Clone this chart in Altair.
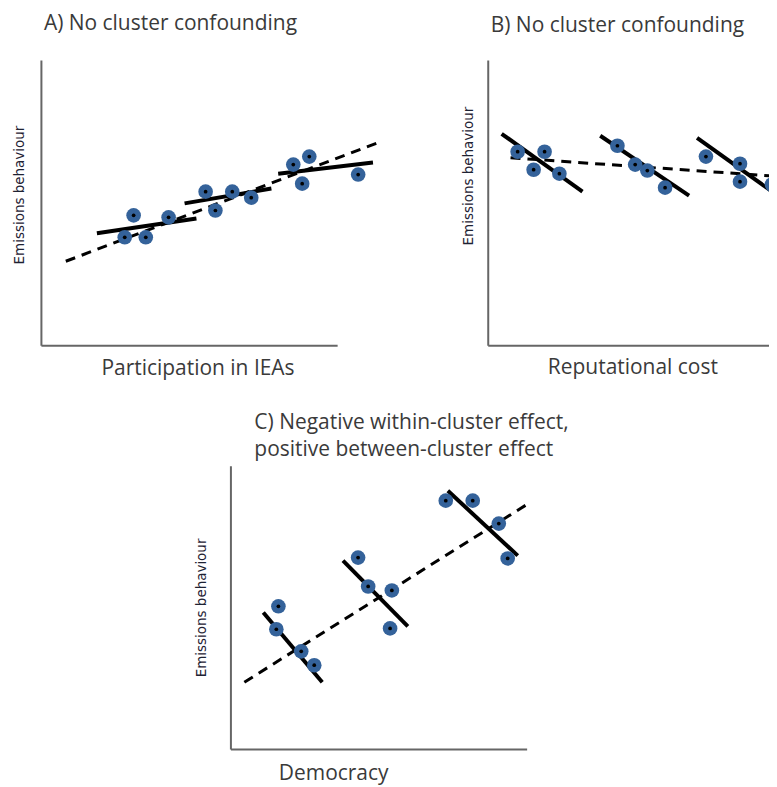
import altair as alt
import pandas as pd

# ---------------- data (arbitrary units) ----------------
A_x = [2.83, 3.13, 3.54, 4.31, 5.56, 5.89, 6.46, 7.10, 8.52, 8.82, 9.06, 10.71]
A_y = [3.78, 4.55, 3.78, 4.48, 5.38, 4.72, 5.38, 5.17, 6.33, 5.66, 6.61, 5.98]
A_within = [[1.89, 3.92, 5.25, 4.44], [4.85, 4.97, 7.78, 5.49], [8.01, 6.01, 11.21, 6.40]]
A_between = [0.84, 2.94, 11.38, 7.10]

B_x = [1.01, 1.55, 1.92, 2.42, 4.38, 4.98, 5.39, 5.99, 7.37, 8.52, 8.52, 9.60]
B_y = [6.78, 6.15, 6.78, 6.01, 6.99, 6.33, 6.12, 5.52, 6.61, 6.36, 5.73, 5.63]
B_within = [[0.47, 7.41, 3.20, 5.38], [3.80, 7.34, 6.80, 5.24], [7.07, 7.27, 9.93, 5.14]]
B_between = [0.77, 6.57, 9.87, 5.91]

C_x = [1.62, 1.55, 2.39, 2.83, 4.31, 4.65, 5.45, 5.39, 7.27, 8.18, 9.06, 9.36]
C_y = [5.04, 4.23, 3.45, 2.96, 6.76, 5.74, 5.60, 4.26, 8.77, 8.77, 7.96, 6.73]
C_within = [[1.11, 4.82, 3.10, 2.36], [3.80, 6.65, 5.99, 4.33], [7.34, 9.12, 9.70, 6.83]]
C_between = [0.47, 2.36, 10.0, 8.63]

TITLE_FONT = "Open Sans"
TEXT_COLOR = "#3a3a3a"
POINT_COLOR = "#34629a"


def panel(px, py, within, between, xmax, width, height, title, xtitle, ytitle,
          title_dx, title_offset, xt_x, xt_y, yt_x, yt_y, clip=False):
    pts = pd.DataFrame({"x": px, "y": py})
    seg = pd.DataFrame(within, columns=["x", "y", "x2", "y2"])
    bet = pd.DataFrame([between], columns=["x", "y", "x2", "y2"])

    xs = alt.Scale(domain=[0, xmax], nice=False, zero=False)
    ys = alt.Scale(domain=[0, 10], nice=False, zero=False)
    xax = alt.Axis(title=xtitle, domain=True, domainColor="#666666", domainWidth=2,
                   ticks=False, labels=False, grid=False,
                   titleFont=TITLE_FONT, titleFontSize=21, titleFontWeight="normal",
                   titleColor=TEXT_COLOR, titleX=xt_x, titleY=xt_y,
                   titleAlign="center", titleBaseline="middle")
    yax = alt.Axis(title=ytitle, domain=True, domainColor="#666666", domainWidth=2,
                   ticks=False, labels=False, grid=False,
                   titleFont="DejaVu Sans", titleFontSize=13.5, titleFontWeight="normal",
                   titleColor="#1e2233", titleX=yt_x, titleY=yt_y, titleAngle=270,
                   titleAlign="center", titleBaseline="middle")

    base = alt.Chart(bet)
    dashed = base.mark_rule(color="black", strokeWidth=3, strokeDash=[10, 7], clip=clip).encode(
        x=alt.X("x:Q", scale=xs, axis=xax), y=alt.Y("y:Q", scale=ys, axis=yax),
        x2="x2:Q", y2="y2:Q")
    solid = alt.Chart(seg).mark_rule(color="black", strokeWidth=4, clip=clip).encode(
        x=alt.X("x:Q", scale=xs), y=alt.Y("y:Q", scale=ys), x2="x2:Q", y2="y2:Q")
    circ = alt.Chart(pts).mark_circle(size=215, color=POINT_COLOR, opacity=1, clip=clip).encode(
        x=alt.X("x:Q", scale=xs), y=alt.Y("y:Q", scale=ys))
    dot = alt.Chart(pts).mark_circle(size=14, color="black", opacity=1, clip=clip).encode(
        x=alt.X("x:Q", scale=xs), y=alt.Y("y:Q", scale=ys))

    return alt.layer(dashed, solid, circ, dot).properties(
        width=width, height=height,
        title=alt.TitleParams(text=title, anchor="start", frame="group", dx=title_dx,
                              offset=title_offset, font=TITLE_FONT, fontSize=21,
                              fontWeight="normal", color=TEXT_COLOR, lineHeight=27),
    )


A = panel(A_x, A_y, A_within, A_between, 10, 297, 286,
          "A) No cluster confounding", "Participation in IEAs", "Emissions behaviour",
          3, 26, 157, 23, -21, 135)
B = panel(B_x, B_y, B_within, B_between, 9.5, 282, 286,
          "B) No cluster confounding", "Reputational cost", "Emissions behaviour",
          3, 24, 145, 22, -19, 116, clip=True)
C = panel(C_x, C_y, C_within, C_between, 10, 297, 284,
          ["C) Negative within-cluster effect,", "positive between-cluster effect"],
          "Democracy", "Emissions behaviour",
          24, 6, 103, 25, -29, 142)

spacer = alt.Chart(pd.DataFrame({"v": [0]})).mark_text(text="").encode(
    x=alt.value(0), y=alt.value(0)).properties(width=142, height=10)

row1 = alt.hconcat(A, B, spacing=81)
row2 = alt.hconcat(spacer, C, spacing=12)

chart = alt.vconcat(row1, row2, spacing=34).properties(
    padding={"left": 4, "top": 4, "right": 0, "bottom": 0}
).configure_view(stroke=None)

chart.save("out.html", embed_options={"renderer": "svg", "actions": False})
